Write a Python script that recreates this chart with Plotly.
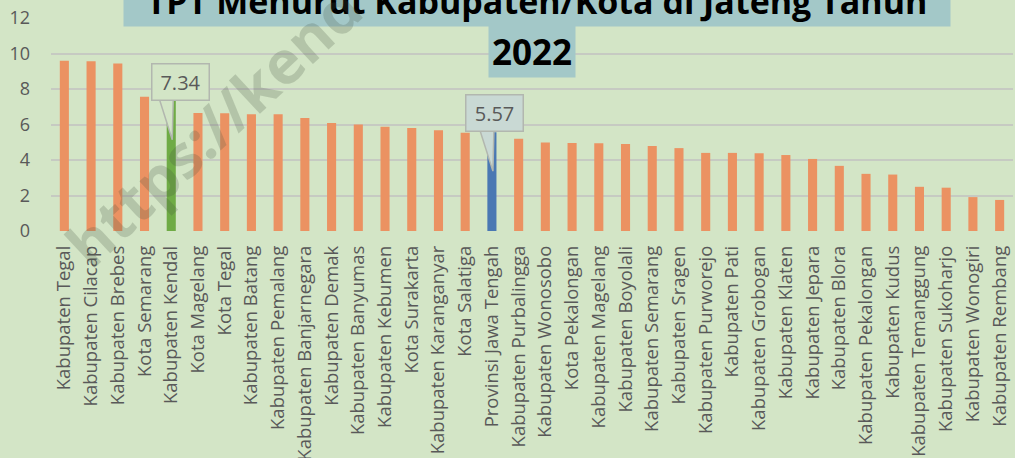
import plotly.graph_objects as go

# TPT (tingkat pengangguran terbuka) per kabupaten/kota, Jawa Tengah 2022
categories = [
    "Kabupaten Tegal", "Kabupaten Cilacap", "Kabupaten Brebes", "Kota Semarang",
    "Kabupaten Kendal", "Kota Magelang", "Kota Tegal", "Kabupaten Batang",
    "Kabupaten Pemalang", "Kabupaten Banjarnegara", "Kabupaten Demak",
    "Kabupaten Banyumas", "Kabupaten Kebumen", "Kota Surakarta",
    "Kabupaten Karanganyar", "Kota Salatiga", "Provinsi Jawa Tengah",
    "Kabupaten Purbalingga", "Kabupaten Wonosobo", "Kota Pekalongan",
    "Kabupaten Magelang", "Kabupaten Boyolali", "Kabupaten Semarang",
    "Kabupaten Sragen", "Kabupaten Purworejo", "Kabupaten Pati",
    "Kabupaten Grobogan", "Kabupaten Klaten", "Kabupaten Jepara",
    "Kabupaten Blora", "Kabupaten Pekalongan", "Kabupaten Kudus",
    "Kabupaten Temanggung", "Kabupaten Sukoharjo", "Kabupaten Wonogiri",
    "Kabupaten Rembang",
]
tpt = [
    9.59, 9.57, 9.43, 7.57, 7.34, 6.65, 6.64, 6.58, 6.58, 6.36, 6.08,
    6.00, 5.87, 5.80, 5.67, 5.53, 5.57, 5.20, 4.99, 4.96, 4.94, 4.90,
    4.79, 4.67, 4.40, 4.40, 4.38, 4.28, 4.06, 3.67, 3.22, 3.18, 2.49,
    2.44, 1.91, 1.75,
]
highlight_colors = {"Kabupaten Kendal": "#6FAB45", "Provinsi Jawa Tengah": "#4A78B3"}
callouts = ["Kabupaten Kendal", "Provinsi Jawa Tengah"]
callout_bg = {"Kabupaten Kendal": "#D3E5C6", "Provinsi Jawa Tengah": "#C9D9D4"}
callout_dx = {"Kabupaten Kendal": 9, "Provinsi Jawa Tengah": 3}
title_lines = ["TPT Menurut Kabupaten/Kota di Jateng Tahun", "2022"]
watermark = "https://kend"

BG = "#D3E5C6"
ORANGE = "#EB9262"
GRID = "#C6CAC2"
TEXT = "#595959"
FONT = "Open Sans"

W, H = 1015, 458
M_L, M_R, M_T, M_B = 51, 2, 18, 227
PW, PH = W - M_L - M_R, H - M_T - M_B


def px_to_paper(px, py):
    return (px - M_L) / PW, (H - M_B - py) / PH


bar_colors = [highlight_colors.get(c, ORANGE) for c in categories]

fig = go.Figure(
    go.Bar(
        x=categories,
        y=tpt,
        marker=dict(color=bar_colors, line=dict(width=0)),
        width=0.34,
        hoverinfo="x+y",
    )
)

annotations = []
shapes = []

# callout boxes with a wedge pointing into the bar
for cat in callouts:
    idx = categories.index(cat)
    val = tpt[idx]
    dx = callout_dx[cat]
    shapes.append(
        dict(
            type="path",
            xref="x", yref="y",
            xsizemode="pixel", ysizemode="pixel",
            xanchor=idx, yanchor=val,
            path="M -12,2 L 2,2 L 1,-39 Z",
            fillcolor=callout_bg[cat],
            line=dict(color="#B2B7AF", width=1.5),
            layer="above",
        )
    )
    annotations.append(
        dict(
            x=cat, y=val, xref="x", yref="y",
            xshift=dx, yshift=0,
            yanchor="bottom", xanchor="center",
            text=f"{val:.2f}", showarrow=False,
            font=dict(family=FONT, size=20, color=TEXT),
            bgcolor=callout_bg[cat],
            bordercolor="#B2B7AF", borderwidth=1.5, borderpad=0,
            width=56, height=35,
        )
    )

# two-line title with highlighted background
x1, y1 = px_to_paper(537, 0.5)
annotations.append(
    dict(
        x=x1, y=y1, xref="paper", yref="paper",
        xanchor="center", yanchor="middle",
        text=f"<b>{title_lines[0]}</b>", showarrow=False,
        font=dict(family=FONT, size=34, color="#000000"),
        bgcolor="#A3C8C8", borderpad=0, width=826, height=51,
    )
)
x2, y2 = px_to_paper(532, 51.5)
annotations.append(
    dict(
        x=x2, y=y2, xref="paper", yref="paper",
        xanchor="center", yanchor="middle",
        text=f"<b>{title_lines[1]}</b>", showarrow=False,
        font=dict(family=FONT, size=35, color="#000000"),
        bgcolor="#A3C8C8", borderpad=0, width=86, height=51,
    )
)

# diagonal watermark
xw, yw = px_to_paper(213, 126)
annotations.append(
    dict(
        x=xw, y=yw, xref="paper", yref="paper",
        xanchor="center", yanchor="middle",
        text=f"<b>{watermark}</b>", showarrow=False, textangle=-43,
        font=dict(family=FONT, size=60, color="rgba(70,80,65,0.22)"),
    )
)

fig.update_layout(
    width=W, height=H,
    margin=dict(l=M_L, r=M_R, t=M_T, b=M_B, autoexpand=False),
    paper_bgcolor=BG, plot_bgcolor=BG,
    showlegend=False,
    bargap=0.66,
    annotations=annotations,
    shapes=shapes,
    font=dict(family=FONT, color=TEXT),
)
fig.update_xaxes(
    type="category",
    tickangle=-90,
    tickfont=dict(family=FONT, size=18.5, color=TEXT),
    showgrid=False, zeroline=False, showline=False,
    ticks="", ticklabelstandoff=10,
)
fig.update_yaxes(
    range=[0, 12], dtick=2,
    tickfont=dict(family=FONT, size=18, color=TEXT),
    showgrid=True, gridcolor=GRID, gridwidth=1.6,
    zeroline=False, showline=False,
    ticks="", ticklabelstandoff=20,
)

fig.write_html("out.html")
